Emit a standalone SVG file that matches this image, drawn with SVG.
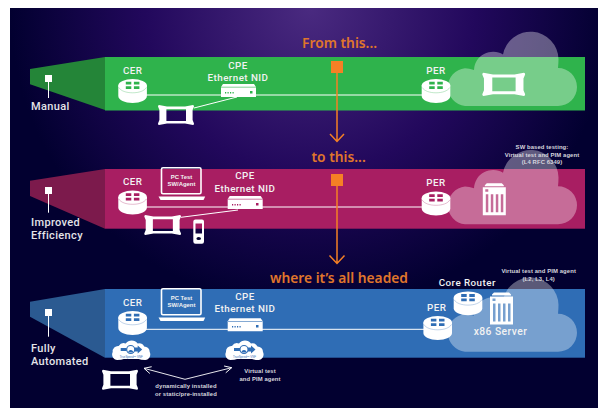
<svg xmlns="http://www.w3.org/2000/svg" width="598" height="408" viewBox="0 0 598 408">
<defs>
<radialGradient id="bg" gradientUnits="userSpaceOnUse" cx="310" cy="8" r="300">
<stop offset="0" stop-color="#4a2a80"/><stop offset="0.55" stop-color="#22085c"/><stop offset="1" stop-color="#020030"/>
</radialGradient>
<marker id="oa" markerUnits="userSpaceOnUse" markerWidth="10" markerHeight="10" refX="8" refY="5" orient="auto-start-reverse"><path d="M1 1.500L8 5L1 8.500" fill="none" stroke="#fff" stroke-width="0.900"/></marker>
<g id="router">
<path d="M0 6.500V17C0 21 6.500 24 14.300 24S28.600 21 28.600 17V6.500Z" fill="#fff"/>
<ellipse cx="14.300" cy="6.500" rx="14.300" ry="6.400" fill="#fff"/>
<path d="M7.500 2.800h5.500v2.800h-5.500zM15.600 2.800h5.500v2.800h-5.500zM7.500 7.200h5.500v2.800h-5.500zM15.600 7.200h5.500v2.800h-5.500z" fill="currentColor"/>
<path d="M0.500 8.500C2.500 12 8 13.800 14.300 13.800S26 12 28.100 8.500" fill="none" stroke="currentColor" stroke-width="0.500" stroke-opacity="0.600"/>
</g>
<path id="cloud" d="M465 106A19 19 0 0 1 465 68.200Q469 68.200 474 70A19 19 0 0 1 503 54.500A28 28 0 0 1 558.500 59Q558.500 63 558 68A19 19 0 0 1 558 106Z" fill="#fff" fill-opacity="0.350"/>
<path id="tester" fill-rule="evenodd" fill="#fff" d="M1 0L9 1.500H27L35 0Q36 0 36 1.500L34.600 5V15L36 18.500Q36 20 35 20L27 18.600H9L1 20Q0 20 0 18.500L1.400 15V5L0 1.500Q0 0 1 0ZM8.400 4.200V16H28V4.200Z"/>
<path id="server" fill-rule="evenodd" fill="#fff" d="M2 2L4 0H19L21 2V3H2ZM0 4H23V32H0ZM2.500 6v2.500h3v-2.500ZM3 11V29H5.500V11ZM8 11V29H10.500V11ZM13 11V29H15.500V11ZM18 11V29H20.500V11Z"/>
<g id="nid">
<path d="M2 0H33L35 3V13H0V3Z" fill="#fff"/>
<path d="M0 3.200H35" stroke="currentColor" stroke-width="0.600"/>
</g>
<g id="laptop">
<rect x="1" y="0.800" width="39.500" height="26" rx="1.500" fill="none" stroke="#fff" stroke-width="1.600"/>
<path d="M-2 29.500H44.700L43 33H0Z" fill="#fff"/>
</g>
<g id="smallcloud">
<path d="M5.500 20A5.500 5.500 0 0 1 1 12A5.500 5.500 0 0 1 7 6A6 6 0 0 1 14 3.500A7.500 7.500 0 0 1 26 3.500A6 6 0 0 1 32.500 6.500A5.500 5.500 0 0 1 38 12A5.500 5.500 0 0 1 33.500 20Q29 20 27 19H12Q10 20 5.500 20Z" fill="#fff"/>
<circle cx="19" cy="9.500" r="4" fill="none" stroke="#2f6db5" stroke-width="1.100"/>
<path d="M9 8h6v3h-6zM23 7.500h3v-2l4.500 4l-4.500 4v-2h-3z" fill="#2f6db5"/>
<path d="M16.500 12.500a2.500 2.500 0 0 1 5 0z" fill="#2f6db5"/>
<text x="19.500" y="18" text-anchor="middle" font-size="2.800" fill="#2f6db5" font-family="Liberation Sans, sans-serif">TrueSpeed™ VNF</text>
</g>
</defs>
<style>
.t{font-family:Roboto,"Liberation Sans",sans-serif;font-weight:500}
.w{fill:#f2f2f2;font-size:9.800px;letter-spacing:.45px}
.lab{fill:#e4e4e8;font-size:11px;letter-spacing:.35px}
.c{text-anchor:middle}
.or{font-family:"Noto Sans",sans-serif;fill:#e0762b;font-size:13.800px;font-weight:600}
.sm{font-family:"Liberation Sans",sans-serif;fill:#d6d6de;font-size:5.900px;font-weight:700;letter-spacing:.1px}
.pc{font-family:"Liberation Sans",sans-serif;fill:#f2f2f2;font-size:5.900px;font-weight:700}
.ln{stroke:#fff;stroke-width:1;fill:none}
.ar{stroke:#f58025;stroke-width:1.500;fill:none}
.sq{fill:#f58025}
.wm{fill:#fff}
#g1{color:#2fb34c}
#g2{color:#a81e62}
#g3{color:#2f6db5}
</style>
<rect x="10" y="8" width="588" height="400" fill="#020030"/>
<rect x="10" y="8" width="588" height="400" fill="url(#bg)"/>

<g id="band-manual">
<path d="M30 69L105 57V110L30 84.300Z" fill="#248538"/>
<rect x="105" y="57" width="480" height="53.500" fill="#2fb34c"/>
<use href="#cloud"/>
</g>
<g id="band-improved">
<path d="M30 180.700L105 169V228.700L30 196Z" fill="#7c1a4c"/>
<rect x="105" y="169" width="480" height="59.700" fill="#a81e62"/>
<use href="#cloud" y="118.300"/>
</g>
<g id="band-automated">
<path d="M30 301.700L105 289V357.700L30 316.700Z" fill="#2b5a91"/>
<rect x="105" y="289" width="480" height="68.700" fill="#2f6db5"/>
<use href="#cloud" y="245.700"/>
</g>

<g id="connectors">
<path class="ln" d="M146 95H422M194 108L237 97"/>
<path class="ln" d="M146 207H422M181 217.300L238 210"/>
<path class="ln" d="M146 329.300H424"/>
<path d="M144 368.300L185 379.300L231.700 367.700" fill="none" stroke="#fff" stroke-width="0.900" marker-start="url(#oa)" marker-end="url(#oa)"/>
<path class="ar" d="M337 73V141M330 134L337 141.500L344 134"/>
<path class="ar" d="M337 185V263M329.500 255.500L337 263.500L344.500 255.500"/>
</g>

<g id="g1">
<g id="tier1-label"><rect x="45" y="75" width="7" height="7" class="wm"/><path class="ln" d="M48.500 82V98" stroke-width="0.800"/><text x="31" y="110" class="t lab">Manual</text></g>
<g id="cer1"><use href="#router" x="118.300" y="79"/><text x="132.700" y="74" class="t w c">CER</text></g>
<g id="cpe1"><text x="238" y="69" class="t w c">CPE</text><text x="238" y="80.500" class="t w c">Ethernet NID</text><use href="#nid" x="221" y="84"/><path d="M225 92h1.200v1.500h-1.200zM227.500 92h1.200v1.500h-1.200zM230 92h1.200v1.500h-1.200zM232.500 92h1.200v1.500h-1.200zM250 91h2.500v2.500h-2.500z" fill="#2fb34c"/></g>
<g id="tester1"><use href="#tester" x="158" y="105"/></g>
<g id="per1"><use href="#router" x="421.700" y="79"/><text x="436" y="74" class="t w c">PER</text></g>
<g id="cloudtester1"><use href="#tester" transform="translate(482.300 72.700) scale(1.190 1.165)"/></g>
<g id="from"><rect x="331" y="61" width="12" height="12" class="sq"/><text x="302" y="47.600" class="or">From this...</text></g>
</g>

<g id="g2">
<g id="tier2-label"><rect x="45" y="187" width="7" height="7" class="wm"/><path class="ln" d="M48.500 194V212.700" stroke-width="0.800"/><text x="31" y="225.700" class="t lab">Improved</text><text x="31" y="238.700" class="t lab">Efficiency</text></g>
<g id="cer2"><use href="#router" x="118.300" y="190.500"/><text x="132.700" y="185" class="t w c">CER</text></g>
<g id="laptop2"><use href="#laptop" x="160.500" y="167"/><text x="181.500" y="179" class="c pc">PC Test</text><text x="181.500" y="186" class="c pc">SW/Agent</text></g>
<g id="cpe2"><text x="245" y="179.300" class="t w c">CPE</text><text x="245" y="191.700" class="t w c">Ethernet NID</text><use href="#nid" x="227.700" y="196"/><path d="M232 204h1.200v1.500h-1.200zM234.500 204h1.200v1.500h-1.200zM237 204h1.200v1.500h-1.200zM239.500 204h1.200v1.500h-1.200zM256 203h2.500v2.500h-2.500z" fill="#a81e62"/></g>
<g id="tester2"><use href="#tester" transform="translate(144.300 215) scale(1.020 1)"/></g>
<g id="handheld"><path fill-rule="evenodd" fill="#fff" d="M195.500 219.500H202Q204 219.500 204 221.500V241.500Q204 243.700 202 243.700H195.500Q193.300 243.700 193.300 241.500V221.500Q193.300 219.500 195.500 219.500ZM195.500 223.500V233.500H202V223.500Z"/><ellipse cx="198.700" cy="238.500" rx="2.300" ry="1.600" fill="#020030"/></g>
<g id="per2"><use href="#router" x="421.700" y="191.500"/><text x="436" y="185.700" class="t w c">PER</text></g>
<g id="server2"><use href="#server" x="482.800" y="183.300"/></g>
<g id="to"><rect x="331" y="174" width="12" height="12" class="sq"/><text x="311.500" y="161.700" class="or">to this...</text></g>
<g id="sw"><text x="542" y="149.300" class="sm c">SW based testing:</text><text x="542" y="156.500" class="sm c">Virtual test and PIM agent</text><text x="542" y="163.700" class="sm c">(L4 RFC 6349)</text></g>
</g>

<g id="g3">
<g id="tier3-label"><rect x="45" y="309" width="7" height="7" class="wm"/><path class="ln" d="M48.500 316V336.700" stroke-width="0.800"/><text x="31" y="351.700" class="t lab">Fully</text><text x="31" y="365" class="t lab">Automated</text></g>
<g id="cer3"><use href="#router" x="118.300" y="311"/><text x="132.700" y="305.700" class="t w c">CER</text></g>
<g id="laptop3"><use href="#laptop" x="160.500" y="288"/><text x="181.500" y="299.800" class="c pc">PC Test</text><text x="181.500" y="306.800" class="c pc">SW/Agent</text></g>
<g id="cpe3"><text x="245" y="300" class="t w c">CPE</text><text x="245" y="312.300" class="t w c">Ethernet NID</text><use href="#nid" x="227.700" y="318.300"/><path d="M232 326h1.200v1.500h-1.200zM234.500 326h1.200v1.500h-1.200zM237 326h1.200v1.500h-1.200zM239.500 326h1.200v1.500h-1.200zM256 325h2.500v2.500h-2.500z" fill="#2f6db5"/></g>
<g id="vnf1"><use href="#smallcloud" x="111.700" y="340"/></g>
<g id="vnf2"><use href="#smallcloud" x="225" y="340"/></g>
<g id="tester3"><use href="#tester" x="102" y="369.700"/></g>
<g id="per3"><use href="#router" x="423.400" y="316"/><text x="436.700" y="310.700" class="t w c">PER</text></g>
<g id="core"><use href="#router" x="453.700" y="291.300"/><text x="467.300" y="285.700" class="t w c">Core Router</text></g>
<g id="server3"><use href="#server" x="490" y="292.500"/><text x="500.500" y="335" class="t w c" style="font-size:10.300px">x86 Server</text></g>
<g id="headed"><text x="270" y="282.700" class="or">where it’s all headed</text></g>
<g id="vt1"><text x="538.700" y="273.300" class="sm c">Virtual test and PIM agent</text><text x="538.700" y="280.500" class="sm c">(L2, L3, L4)</text></g>
<g id="vt2"><text x="260" y="373.300" class="sm c">Virtual test</text><text x="260" y="381.300" class="sm c">and PIM agent</text></g>
<g id="dyn"><text x="186" y="388.400" class="sm c">dynamically installed</text><text x="186" y="395.500" class="sm c">or static/pre-installed</text></g>
</g>
</svg>
